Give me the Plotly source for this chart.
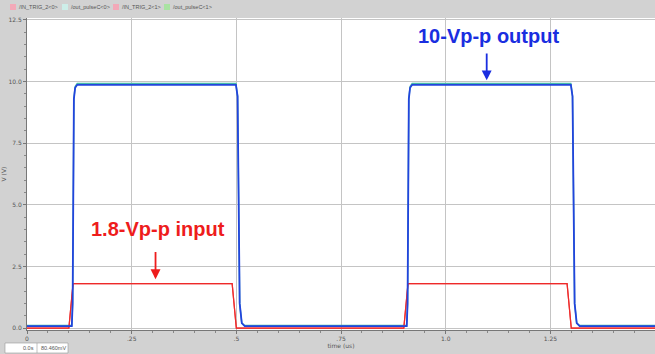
import plotly.graph_objects as go

# ---- data ----
in_t = [0.0, 0.100, 0.110, 0.490, 0.500, 0.900, 0.910, 1.290, 1.300, 1.5]
in_v = [0.0, 0.0, 1.8, 1.8, 0.0, 0.0, 1.8, 1.8, 0.0, 0.0]

out_t = [0.0, 0.107, 0.109, 0.112, 0.115, 0.120, 0.499, 0.503, 0.508, 0.513, 0.520,
         0.907, 0.909, 0.912, 0.915, 0.920, 1.299, 1.303, 1.308, 1.313, 1.320, 1.5]
out0_v = [0.08, 0.08, 1.0, 9.3, 9.75, 9.87, 9.87, 9.4, 1.0, 0.2, 0.08,
          0.08, 1.0, 9.3, 9.75, 9.87, 9.87, 9.4, 1.0, 0.2, 0.08, 0.08]
out1_v = [0.1, 0.1, 1.0, 9.3, 9.8, 9.92, 9.92, 9.4, 1.0, 0.2, 0.1,
          0.1, 1.0, 9.3, 9.8, 9.92, 9.92, 9.4, 1.0, 0.2, 0.1, 0.1]

series_names = ["/IN_TRIG_2<0>", "/out_pulseC<0>", "/IN_TRIG_2<1>", "/out_pulseC<1>"]
swatch_colors = ["#f3a9b8", "#cdeee9", "#f3a9b8", "#a9e3a2"]

x_tickvals = [0, 0.25, 0.5, 0.75, 1.0, 1.25, 1.5]
x_ticktext = ["0", ".25", ".5", ".75", "1.0", "1.25", "1.5"]
y_tickvals = [0, 2.5, 5.0, 7.5, 10.0, 12.5]
y_ticktext = ["0.0", "2.5", "5.0", "7.5", "10.0", "12.5"]

# ---- layout constants ----
W, H = 655, 354
ML, MR, MT, MB = 27, 0, 18, 24
PW = W - ML - MR
PH = H - MT - MB

def px(x):
    return (x - ML) / PW

def py(y):
    return 1 - (y - MT) / PH

fig = go.Figure()
fig.add_trace(go.Scatter(x=out_t, y=out1_v, mode="lines", name=series_names[3],
                         line=dict(color="#45b9a8", width=1.4)))
fig.add_trace(go.Scatter(x=in_t, y=in_v, mode="lines", name=series_names[2],
                         line=dict(color="#f04848", width=1.2)))
fig.add_trace(go.Scatter(x=in_t, y=in_v, mode="lines", name=series_names[0],
                         line=dict(color="#ee2a2a", width=1.2)))
fig.add_trace(go.Scatter(x=out_t, y=out0_v, mode="lines", name=series_names[1],
                         line=dict(color="#2244dd", width=1.8)))

axis_font = dict(family="DejaVu Sans", size=6, color="#555555")
small_font = dict(family="Liberation Sans", size=5.5, color="#555555")

fig.update_layout(
    width=W, height=H,
    margin=dict(l=ML, r=MR, t=MT, b=MB),
    paper_bgcolor="#d2d2d2",
    plot_bgcolor="#ffffff",
    showlegend=False,
    xaxis=dict(range=[0, 1.5], tickvals=x_tickvals, ticktext=x_ticktext,
               tickfont=axis_font, showgrid=True, gridcolor="#c4c4c4", gridwidth=1,
               zeroline=False, showline=True, linecolor="#777777", linewidth=1,
               ticks="outside", ticklen=3, tickcolor="#777777",
               minor=dict(dtick=0.05, ticks="outside", ticklen=2, tickcolor="#888888", showgrid=False),
               title=dict(text="time (us)", font=axis_font, standoff=0)),
    yaxis=dict(range=[-0.08, 12.58], tickvals=y_tickvals, ticktext=y_ticktext,
               tickfont=axis_font, showgrid=True, gridcolor="#c4c4c4", gridwidth=1,
               zeroline=False, showline=True, linecolor="#777777", linewidth=1,
               ticks="outside", ticklen=3, tickcolor="#777777",
               minor=dict(dtick=0.5, ticks="outside", ticklen=2, tickcolor="#888888", showgrid=False),
               title=dict(text="V (V)", font=axis_font, standoff=2)),
)

# legend strip at top
leg_x = [10, 62, 113, 164]
for name, col, lx in zip(series_names, swatch_colors, leg_x):
    fig.add_shape(type="rect", xref="paper", yref="paper",
                  x0=px(lx), x1=px(lx + 6), y0=py(10), y1=py(4),
                  fillcolor=col, line=dict(width=0))
    fig.add_annotation(xref="paper", yref="paper", x=px(lx + 7), y=py(7),
                       text=name, showarrow=False, xanchor="left", yanchor="middle",
                       font=small_font)

# cursor readout box bottom-left
fig.add_shape(type="rect", xref="paper", yref="paper",
              x0=px(5), x1=px(68), y0=py(353), y1=py(343),
              fillcolor="#ffffff", line=dict(color="#999999", width=0.6))
fig.add_shape(type="line", xref="paper", yref="paper",
              x0=px(37), x1=px(37), y0=py(353), y1=py(343),
              line=dict(color="#999999", width=0.6))
fig.add_annotation(xref="paper", yref="paper", x=px(36), y=py(348), text="0.0s",
                   showarrow=False, xanchor="right", yanchor="middle", font=small_font)
fig.add_annotation(xref="paper", yref="paper", x=px(39), y=py(348), text="80.460mV",
                   showarrow=False, xanchor="left", yanchor="middle", font=small_font)

# callouts
fig.add_annotation(x=1.098, y=10.05, ax=1.098, ay=11.2, axref="x", ayref="y",
                   text="", showarrow=True, arrowhead=2, arrowsize=1.1,
                   arrowwidth=1.8, arrowcolor="#1a2ee0")
fig.add_annotation(x=1.103, y=11.83, text="<b>10-Vp-p output</b>", showarrow=False,
                   font=dict(family="Liberation Sans", size=20, color="#1a2ee0"))
fig.add_annotation(x=0.307, y=1.98, ax=0.307, ay=3.15, axref="x", ayref="y",
                   text="", showarrow=True, arrowhead=2, arrowsize=1.1,
                   arrowwidth=1.8, arrowcolor="#ee1c1c")
fig.add_annotation(x=0.314, y=4.0, text="<b>1.8-Vp-p input</b>", showarrow=False,
                   font=dict(family="Liberation Sans", size=20, color="#ee1c1c"))

fig.write_html("out.html")
